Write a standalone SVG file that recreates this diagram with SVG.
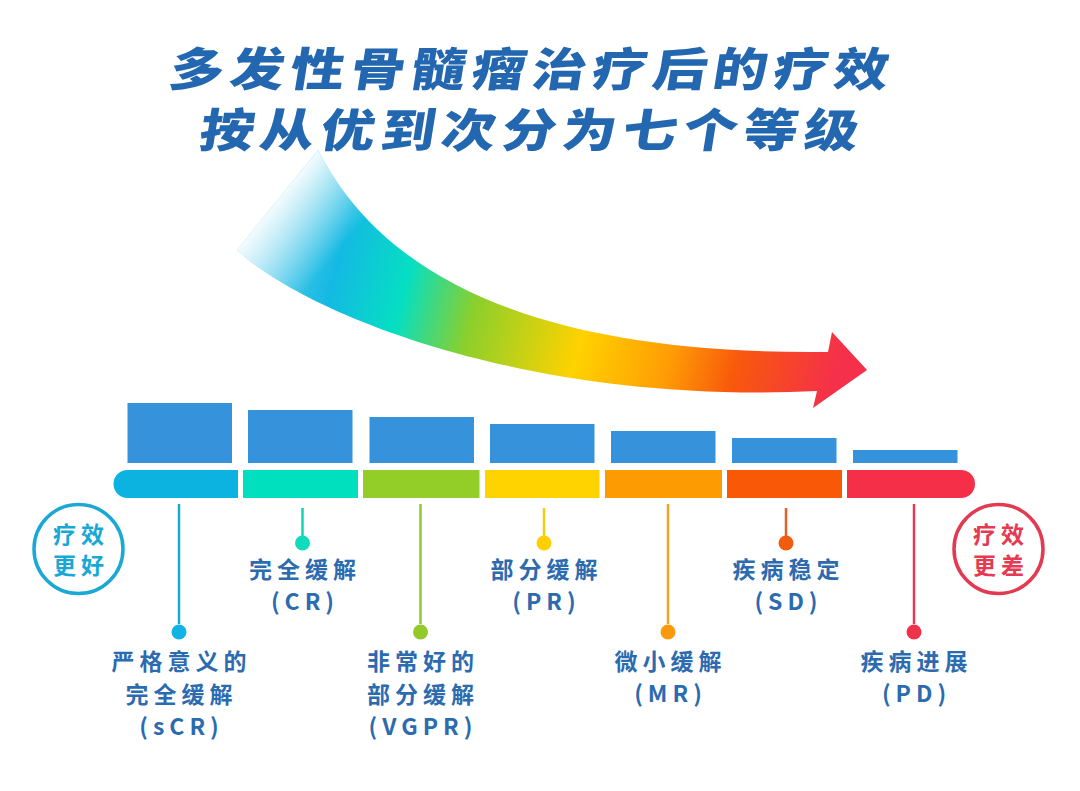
<svg xmlns="http://www.w3.org/2000/svg" width="1080" height="791" viewBox="0 0 1080 791">
<defs>
<linearGradient id="rainbow" gradientUnits="userSpaceOnUse" x1="240" y1="200" x2="870" y2="370">
<stop offset="0" stop-color="#7fd6ef"/>
<stop offset="0.17" stop-color="#14b9e3"/>
<stop offset="0.28" stop-color="#05dfc2"/>
<stop offset="0.39" stop-color="#8ccf2b"/>
<stop offset="0.56" stop-color="#ffd200"/>
<stop offset="0.70" stop-color="#ff9c05"/>
<stop offset="0.80" stop-color="#f8590c"/>
<stop offset="0.95" stop-color="#f5304a"/>
<stop offset="1" stop-color="#f52f4a"/>
</linearGradient>
<linearGradient id="tailfade" gradientUnits="userSpaceOnUse" x1="272" y1="197" x2="338" y2="252">
<stop offset="0" stop-color="#ffffff" stop-opacity="1"/>
<stop offset="1" stop-color="#ffffff" stop-opacity="0"/>
</linearGradient>
<style>
.bar{fill:#3592db}
.lbl{font-family:"Noto Sans CJK SC","Noto Sans",sans-serif;font-weight:700;font-size:23px;fill:#2c6bb0;text-anchor:middle;dominant-baseline:central;letter-spacing:5px}
.ttl{font-family:"Noto Sans CJK SC","Noto Sans",sans-serif;font-weight:900;font-size:46px;fill:#2367b1;text-anchor:middle;dominant-baseline:central;letter-spacing:5.2px}
.conn{stroke-width:2.5;fill:none}
.ring{fill:#ffffff;stroke-width:3.5}
</style>
</defs>
<rect x="0" y="0" width="1080" height="791" fill="#ffffff"/>

<g id="arrow">
<path d="M318,150 C390,290 560,355 828,352 L832,332 L867,370 L813,408 L817,391 C520,405 300,310 237,250 Z" fill="url(#rainbow)"/>
<path d="M318,150 C390,290 560,355 828,352 L832,332 L867,370 L813,408 L817,391 C520,405 300,310 237,250 Z" fill="url(#tailfade)"/>
</g>

<g id="title">
<text class="ttl" transform="translate(530,66) skewX(-9) scale(1.18,1)" x="2.6" y="0">多发性骨髓瘤治疗后的疗效</text>
<text class="ttl" transform="translate(530,127) skewX(-9) scale(1.18,1)" x="2.6" y="0">按从优到次分为七个等级</text>
</g>

<g id="connectors">
<line class="conn" x1="179" y1="504" x2="179" y2="624" stroke="#1aa9d6"/>
<line class="conn" x1="302.5" y1="508" x2="302.5" y2="536" stroke="#10d4b6"/>
<line class="conn" x1="420.5" y1="504" x2="420.5" y2="624" stroke="#8fc932"/>
<line class="conn" x1="544" y1="508" x2="544" y2="536" stroke="#f5cc10"/>
<line class="conn" x1="668" y1="504" x2="668" y2="624" stroke="#f0a324"/>
<line class="conn" x1="786" y1="508" x2="786" y2="536" stroke="#e0602a"/>
<line class="conn" x1="914" y1="504" x2="914" y2="624" stroke="#e33a52"/>
</g>

<g id="level-sCR">
<rect class="bar" x="127.5" y="403" width="104.5" height="60"/>
<path d="M127.5,470 H238 V498 H127.5 A14,14 0 0 1 127.5,470 Z" fill="#0cb3e1"/>
<circle cx="179" cy="632" r="7.5" fill="#11b2e4"/>
<text class="lbl" x="181.5" y="660">严格意义的</text>
<text class="lbl" x="181.5" y="693">完全缓解</text>
<text class="lbl" x="181.5" y="725">(sCR)</text>
</g>

<g id="level-CR">
<rect class="bar" x="248" y="410" width="104.5" height="53"/>
<rect x="243" y="470" width="115" height="28" fill="#00e0bf"/>
<circle cx="302.5" cy="543" r="7.5" fill="#0fdcbc"/>
<text class="lbl" x="305" y="567.5">完全缓解</text>
<text class="lbl" x="305" y="600">(CR)</text>
</g>

<g id="level-VGPR">
<rect class="bar" x="369.5" y="417" width="104.5" height="46"/>
<rect x="363" y="470" width="116.5" height="28" fill="#93cd28"/>
<circle cx="420.5" cy="632" r="7.5" fill="#93c92a"/>
<text class="lbl" x="423" y="660">非常好的</text>
<text class="lbl" x="423" y="693">部分缓解</text>
<text class="lbl" x="423" y="725">(VGPR)</text>
</g>

<g id="level-PR">
<rect class="bar" x="490" y="424" width="104.5" height="39"/>
<rect x="485" y="470" width="114.5" height="28" fill="#ffd300"/>
<circle cx="544" cy="543" r="7.5" fill="#ffcf00"/>
<text class="lbl" x="546.5" y="567.5">部分缓解</text>
<text class="lbl" x="546.5" y="600">(PR)</text>
</g>

<g id="level-MR">
<rect class="bar" x="611" y="431" width="104.5" height="32"/>
<rect x="605" y="470" width="117" height="28" fill="#fd9b02"/>
<circle cx="668" cy="632" r="7.5" fill="#f99a0a"/>
<text class="lbl" x="670.5" y="660">微小缓解</text>
<text class="lbl" x="670.5" y="692">(MR)</text>
</g>

<g id="level-SD">
<rect class="bar" x="732" y="438" width="104.5" height="25"/>
<rect x="727" y="470" width="115" height="28" fill="#f95906"/>
<circle cx="786" cy="543" r="7.5" fill="#f15c0f"/>
<text class="lbl" x="788.5" y="567.5">疾病稳定</text>
<text class="lbl" x="788.5" y="600">(SD)</text>
</g>

<g id="level-PD">
<rect class="bar" x="853" y="450" width="104.5" height="13"/>
<path d="M847,470 H961 A14,14 0 0 1 961,498 H847 Z" fill="#f62f48"/>
<circle cx="914" cy="632" r="7.5" fill="#f0334a"/>
<text class="lbl" x="916.5" y="660">疾病进展</text>
<text class="lbl" x="916.5" y="692">(PD)</text>
</g>

<g id="better">
<circle class="ring" cx="78.5" cy="549" r="44.5" stroke="#1aa8d6"/>
<text class="lbl" x="81" y="533" style="fill:#19a8d6">疗效</text>
<text class="lbl" x="81" y="564" style="fill:#19a8d6">更好</text>
</g>

<g id="worse">
<circle class="ring" cx="998.5" cy="549" r="44.5" stroke="#e23a51"/>
<text class="lbl" x="1001" y="533" style="fill:#e53a51">疗效</text>
<text class="lbl" x="1001" y="564" style="fill:#e53a51">更差</text>
</g>
</svg>
